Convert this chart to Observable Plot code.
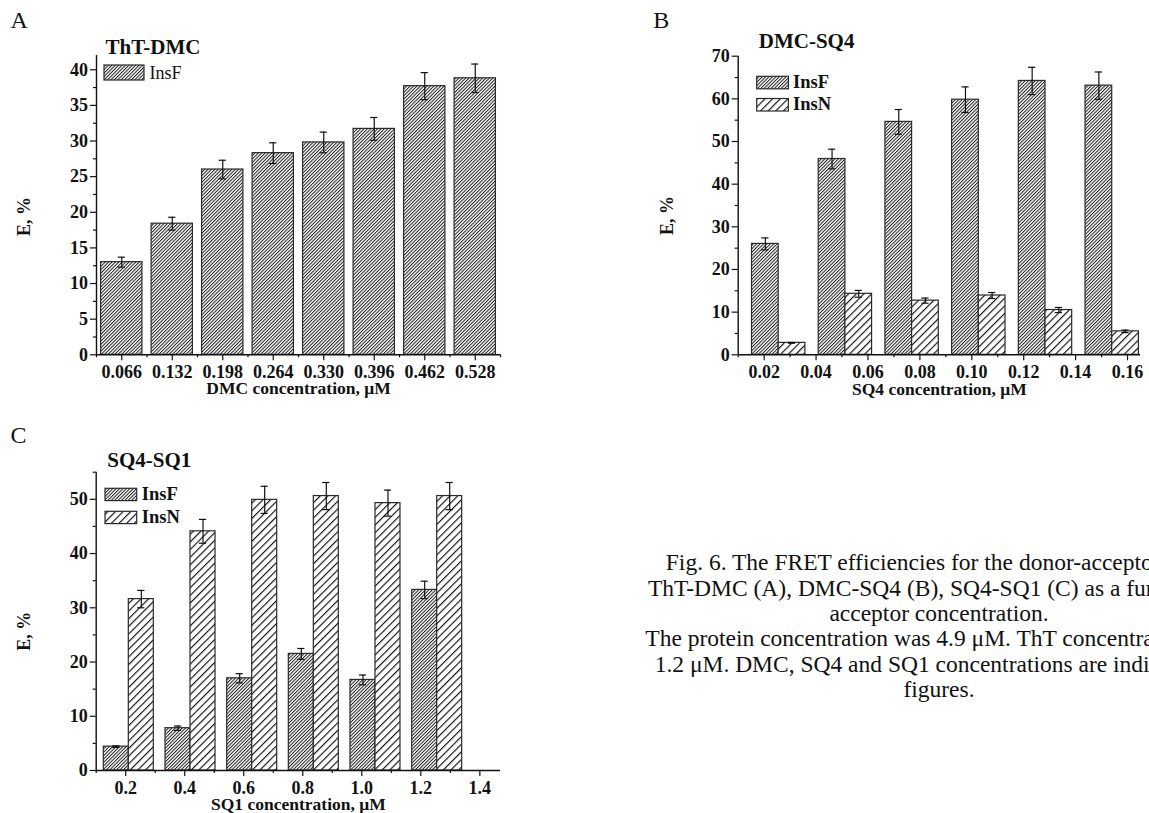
<!DOCTYPE html>
<html>
<head>
<meta charset="utf-8">
<script src="https://cdn.jsdelivr.net/npm/d3@7"></script>
<script src="https://cdn.jsdelivr.net/npm/@observablehq/plot@0.6"></script>
<style>
  html, body { margin: 0; padding: 0; background: #fff; }
  body { width: 1149px; height: 813px; overflow: hidden; position: relative;
         font-family: "Liberation Serif", "Times New Roman", serif; color: #111; }
  .panel { position: absolute; }
  #caption { position: absolute; left: 539px; top: 550.4px; width: 800px; text-align: center;
             font-family: "Liberation Serif", "Times New Roman", serif;
             font-size: 23.5px; line-height: 25.3px; white-space: nowrap; color: #111; }
  #overlay { position: absolute; left: 0; top: 0; pointer-events: none; }
</style>
</head>
<body>
<svg width="0" height="0" style="position:absolute">
  <defs>
    <pattern id="hatchF" patternUnits="userSpaceOnUse" width="2.4" height="10" patternTransform="rotate(45)">
      <rect width="2.4" height="10" fill="#fff"></rect>
      <rect width="1.0" height="10" fill="#1c1c1c"></rect>
    </pattern>
    <pattern id="hatchN" patternUnits="userSpaceOnUse" width="5.4" height="10" patternTransform="rotate(45)">
      <rect width="5.4" height="10" fill="#fff"></rect>
      <rect width="1.15" height="10" fill="#111"></rect>
    </pattern>
  </defs>
</svg>
<div id="panelA" class="panel" style="left:0px;top:0px;width:520px;"></div>
<div id="panelB" class="panel" style="left:630px;top:0px;width:519px;"></div>
<div id="panelC" class="panel" style="left:0px;top:380px;width:520px;"></div>
<div id="caption"></div>
<svg id="overlay" width="1149" height="813"></svg>
<script>
// ---------------- data ----------------
const seriesNames = ["InsF", "InsN"];

// Panel A: ThT-DMC
const concA = [0.066, 0.132, 0.198, 0.264, 0.330, 0.396, 0.462, 0.528];
const insF_A = [13.0, 18.4, 26.0, 28.3, 29.8, 31.7, 37.7, 38.8];
const errF_A = [0.7, 0.9, 1.3, 1.45, 1.45, 1.6, 1.9, 2.0];
const yTicksA = [0, 5, 10, 15, 20, 25, 30, 35, 40];
const yMinorA = [2.5, 7.5, 12.5, 17.5, 22.5, 27.5, 32.5, 37.5];
const xMinorA = [0.033, 0.099, 0.165, 0.231, 0.297, 0.363, 0.429, 0.495, 0.561];

// Panel B: DMC-SQ4
const concB = [0.0256, 0.0513, 0.0770, 0.1027, 0.1284, 0.1541];
const insF_B = [26.0, 45.9, 54.6, 59.8, 64.2, 63.1];
const errF_B = [1.4, 2.3, 2.9, 3.0, 3.2, 3.2];
const insN_B = [2.8, 14.3, 12.7, 13.9, 10.5, 5.5];
const errN_B = [0.1, 0.8, 0.6, 0.7, 0.6, 0.3];
const xTicksB = [0.02, 0.04, 0.06, 0.08, 0.10, 0.12, 0.14, 0.16];
const xMinorB = [0.01, 0.03, 0.05, 0.07, 0.09, 0.11, 0.13, 0.15];
const yTicksB = [0, 10, 20, 30, 40, 50, 60, 70];
const yMinorB = [5, 15, 25, 35, 45, 55, 65];

// Panel C: SQ4-SQ1
const concC = [0.2105, 0.4196, 0.6286, 0.8374, 1.0464, 1.2555];
const insF_C = [4.4, 7.8, 17.0, 21.5, 16.7, 33.3];
const errF_C = [0.15, 0.4, 0.85, 1.0, 0.9, 1.6];
const insN_C = [31.6, 44.1, 49.9, 50.6, 49.3, 50.6];
const errN_C = [1.6, 2.2, 2.5, 2.5, 2.4, 2.5];
const xTicksC = [0.2, 0.4, 0.6, 0.8, 1.0, 1.2, 1.4];
const xMinorC = [0.1, 0.3, 0.5, 0.7, 0.9, 1.1, 1.3];
const yTicksC = [0, 10, 20, 30, 40, 50];
const yMinorC = [5, 15, 25, 35, 45, 55];

const captionLines = [
  "Fig. 6. The FRET efficiencies for the donor-acceptor pairs",
  "ThT-DMC (A), DMC-SQ4 (B), SQ4-SQ1 (C) as a function of",
  "acceptor concentration.",
  "The protein concentration was 4.9 \u03bcM. ThT concentration was",
  "1.2 \u03bcM. DMC, SQ4 and SQ1 concentrations are indicated in",
  "figures."
];

// ---------------- drawing ----------------
const FONT = "'Liberation Serif', 'Times New Roman', Times, serif";
const INK = "#111";
const FILL = {InsF: "url(#hatchF)", InsN: "url(#hatchN)"};

function rowsFor(conc, vals, errs, off0, off1) {
  return conc.map((c, i) => ({xc: c + (off0 + off1) / 2, x1: c + off0, x2: c + off1, v: vals[i], e: errs[i]}));
}

function makePanel(p) {
  const [x0, x1] = p.xDomain;
  const pxPerUnit = (p.width - p.marginLeft - p.marginRight) / (x1 - x0);
  const cap = 3.6 / pxPerUnit;
  const marks = [];
  for (const s of p.series) {
    marks.push(Plot.rect(s.rows, {x1: "x1", x2: "x2", y1: 0, y2: "v", fill: FILL[s.name], stroke: "#2a2a2a", strokeWidth: 1.2}));
  }
  const all = p.series.flatMap(s => s.rows);
  marks.push(
    Plot.ruleX(all, {x: "xc", y1: d => d.v - d.e, y2: d => d.v + d.e, stroke: INK, strokeWidth: 1.2}),
    Plot.ruleY(all, {y: d => d.v + d.e, x1: d => d.xc - cap, x2: d => d.xc + cap, stroke: INK, strokeWidth: 1.2}),
    Plot.ruleY(all, {y: d => d.v - d.e, x1: d => d.xc - cap, x2: d => d.xc + cap, stroke: INK, strokeWidth: 1.2}),
    Plot.ruleY([p.yDomain[0]], {stroke: INK, strokeWidth: 1.4}),
    Plot.ruleX([x0], {stroke: INK, strokeWidth: 1.4}),
    Plot.axisX({ticks: p.xTicks, tickFormat: p.xFormat, tickSize: 6, tickPadding: 4.7, label: null, stroke: INK, strokeWidth: 1.2, fontWeight: "bold", fontSize: 18}),
    Plot.axisX({ticks: p.xMinor, tickFormat: () => "", tickSize: 3, label: null, stroke: INK, strokeWidth: 1.2}),
    Plot.axisY({ticks: p.yTicks, tickSize: 6, tickPadding: 2.4, label: null, stroke: INK, strokeWidth: 1.2, fontWeight: "bold", fontSize: 18}),
    Plot.axisY({ticks: p.yMinor, tickFormat: () => "", tickSize: 3, label: null, stroke: INK, strokeWidth: 1.2}),
    Plot.text([p.title], {text: d => d, frameAnchor: "top-left", textAnchor: "start", lineAnchor: "middle", dx: p.titleDx, dy: p.titleDy, fontSize: 21, fontWeight: "bold", fill: INK}),
    Plot.text([p.letter], {text: d => d, frameAnchor: "top-left", textAnchor: "start", lineAnchor: "middle", dx: p.letterDx, dy: p.letterDy, fontSize: 24, fontWeight: "normal", fill: INK}),
    Plot.text([p.xLabel], {text: d => d, frameAnchor: "bottom", textAnchor: "middle", lineAnchor: "middle", dy: p.xLabelDy, fontSize: 17.5, fontWeight: "bold", fill: INK}),
    Plot.text(["E, %"], {text: d => d, frameAnchor: "left", textAnchor: "middle", lineAnchor: "middle", rotate: -90, dx: p.yLabelDx, dy: p.yLabelDy, fontSize: 18, fontWeight: "bold", fill: INK})
  );
  return Plot.plot({
    width: p.width, height: p.height,
    marginLeft: p.marginLeft, marginRight: p.marginRight,
    marginTop: p.marginTop, marginBottom: p.marginBottom,
    x: {type: "linear", domain: p.xDomain},
    y: {type: "linear", domain: p.yDomain},
    style: {fontFamily: FONT, fontSize: "18px", fontWeight: "bold", color: INK, background: "transparent", overflow: "visible"},
    marks
  });
}

// Panel A
const wA = 0.054;
document.getElementById("panelA").append(makePanel({
  width: 520, height: 400, marginLeft: 96, marginRight: 20, marginTop: 55, marginBottom: 45.7,
  xDomain: [0.033, 0.561], yDomain: [0, 42],
  series: [{name: "InsF", rows: rowsFor(concA, insF_A, errF_A, -wA / 2, wA / 2)}],
  xTicks: concA, xMinor: xMinorA, xFormat: d3.format(".3f"),
  yTicks: yTicksA, yMinor: yMinorA,
  title: "ThT-DMC", titleDx: 9, titleDy: -8.7,
  letter: "A", letterDx: -86, letterDy: -35,
  xLabel: "DMC concentration, \u03bcM", xLabelDy: 34,
  yLabelDx: -71.8, yLabelDy: 11.3
}));

// Panel B
const wB = 0.01028;
document.getElementById("panelB").append(makePanel({
  width: 519, height: 400, marginLeft: 107.7, marginRight: 9, marginTop: 55.7, marginBottom: 45.7,
  xDomain: [0.01, 0.165], yDomain: [0, 70],
  series: [
    {name: "InsF", rows: rowsFor(concB, insF_B, errF_B, -wB, 0)},
    {name: "InsN", rows: rowsFor(concB, insN_B, errN_B, 0, wB)}
  ],
  xTicks: xTicksB, xMinor: xMinorB, xFormat: d3.format(".2f"),
  yTicks: yTicksB, yMinor: yMinorB,
  title: "DMC-SQ4", titleDx: 20.6, titleDy: -15.4,
  letter: "B", letterDx: -85, letterDy: -36.2,
  xLabel: "SQ4 concentration, \u03bcM", xLabelDy: 34.3,
  yLabelDx: -70.8, yLabelDy: 10
}));

// Panel C
const wC = 0.0847;
document.getElementById("panelC").append(makePanel({
  width: 520, height: 433, marginLeft: 95.7, marginRight: 20, marginTop: 91.7, marginBottom: 43,
  xDomain: [0.1, 1.47], yDomain: [0, 55],
  series: [
    {name: "InsF", rows: rowsFor(concC, insF_C, errF_C, -wC, 0)},
    {name: "InsN", rows: rowsFor(concC, insN_C, errN_C, 0, wC)}
  ],
  xTicks: xTicksC, xMinor: xMinorC, xFormat: d3.format(".1f"),
  yTicks: yTicksC, yMinor: yMinorC,
  title: "SQ4-SQ1", titleDx: 11, titleDy: -11.9,
  letter: "C", letterDx: -85.7, letterDy: -36.4,
  xLabel: "SQ1 concentration, \u03bcM", xLabelDy: 33.6,
  yLabelDx: -71.5, yLabelDy: 10
}));

// Legends (overlay)
const overlay = d3.select("#overlay");
const legends = [
  {x: 104, w: 40, h: 15, tx: 149.5, bold: false, size: 18, items: [{name: seriesNames[0], y: 65, base: 78.5}]},
  {x: 756.7, w: 31.7, h: 12.5, tx: 793, bold: true, size: 18.5, items: [{name: seriesNames[0], y: 76.3, base: 87.5}, {name: seriesNames[1], y: 98.5, base: 109.8}]},
  {x: 105, w: 31.7, h: 12.3, tx: 141.7, bold: true, size: 18.5, items: [{name: seriesNames[0], y: 488.3, base: 499.6}, {name: seriesNames[1], y: 511.3, base: 522.7}]}
];
for (const L of legends) {
  for (const it of L.items) {
    overlay.append("rect").attr("x", L.x).attr("y", it.y).attr("width", L.w).attr("height", L.h)
      .attr("fill", FILL[it.name]).attr("stroke", "#2a2a2a").attr("stroke-width", 1.2);
    overlay.append("text").attr("x", L.tx).attr("y", it.base).text(it.name)
      .attr("font-family", FONT).attr("font-size", L.size).attr("font-weight", L.bold ? "bold" : "normal").attr("fill", INK);
  }
}

// Caption
document.getElementById("caption").innerHTML = captionLines.map(s => s.replace(/&/g, "&amp;")).join("<br>");
</script>
</body>
</html>
